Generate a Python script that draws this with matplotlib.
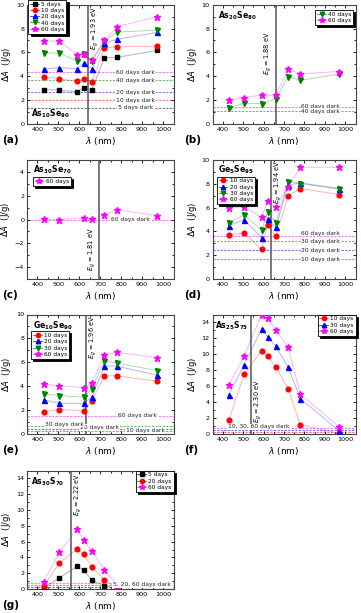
import matplotlib
matplotlib.use('Agg')
import matplotlib.pyplot as plt
from matplotlib.ticker import MultipleLocator
from matplotlib.lines import Line2D

# ---------------- data ----------------
wl_a = [430, 505, 590, 620, 660, 720, 780, 970]
a_days = ['5 days', '10 days', '20 days', '40 days', '60 days']
a_5 = [2.88, 2.85, 2.7, 3.05, 2.87, 5.55, 5.58, 6.17]
a_10 = [3.95, 3.78, 3.58, 3.78, 3.52, 6.38, 6.47, 6.52]
a_20 = [4.62, 4.72, 4.64, 5.08, 4.62, 6.78, 7.1, 7.67]
a_40 = [5.98, 5.93, 5.28, 5.84, 5.28, 6.95, 7.7, 7.87]
a_60 = [6.97, 6.94, 5.8, 5.9, 5.35, 7.0, 8.16, 8.98]
a_dark = [1.37, 2.0, 2.67, 3.67, 4.33]

wl_b = [430, 505, 590, 660, 720, 780, 970]
b_days = ['40 days', '60 days']
b_40 = [1.35, 1.75, 1.7, 2.1, 3.98, 3.65, 4.2]
b_60 = [2.0, 2.2, 2.45, 2.4, 4.6, 4.2, 4.4]
b_dark = [1.12, 1.45]

wl_c = [430, 505, 620, 660, 720, 780, 970]
c_days = ['60 days']
c_60 = [0.04, 0.0, 0.13, 0.04, 0.4, 0.82, 0.32]
c_dark = [0.0]

wl_d = [430, 505, 590, 620, 660, 720, 780, 970]
d_days = ['10 days', '20 days', '30 days', '60 days']
d_10 = [3.73, 3.87, 2.48, 4.54, 3.59, 6.99, 7.6, 7.1]
d_20 = [4.48, 4.99, 3.48, 5.01, 4.35, 7.88, 8.08, 7.6]
d_30 = [4.74, 5.4, 4.1, 5.6, 4.72, 8.19, 8.02, 7.55]
d_60 = [5.96, 6.05, 5.18, 6.57, 6.05, 7.77, 9.39, 9.39]
d_dark = [1.64, 2.42, 3.18, 3.62]

wl_e = [430, 505, 620, 660, 720, 780, 970]
e_days = ['10 days', '20 days', '30 days', '60 days']
e_10 = [1.87, 2.04, 1.96, 2.77, 4.87, 4.87, 4.42]
e_20 = [2.85, 2.57, 2.57, 3.08, 5.68, 5.68, 4.92]
e_30 = [3.36, 3.22, 3.08, 3.8, 6.13, 5.93, 5.31]
e_60 = [4.17, 4.03, 3.89, 4.25, 6.63, 6.83, 6.38]
e_dark = [0.24, 0.45, 0.63, 1.54]

wl_f = [430, 505, 590, 620, 660, 720, 780, 970]
f_days = ['10 days', '30 days', '60 days']
f_10 = [1.75, 7.5, 10.45, 9.75, 8.42, 5.7, 1.15, 0.08]
f_30 = [4.9, 8.7, 13.15, 12.2, 11.0, 8.4, 4.45, 0.38]
f_60 = [6.15, 9.8, 14.95, 14.5, 13.1, 10.9, 5.0, 0.9]
f_dark = [0.3, 0.55, 0.8]

wl_g = [430, 505, 590, 620, 660, 720, 780]
g_days = ['5 days', '20 days', '60 days']
g_5 = [0.15, 1.4, 2.9, 2.35, 1.15, 0.4, 0.1]
g_20 = [0.38, 3.3, 5.05, 4.45, 2.78, 1.15, 0.15]
g_60 = [0.92, 4.65, 7.65, 6.2, 4.82, 2.38, 0.55]
g_dark = [0.2, 0.5, 0.8]

eg_vals = ['1.93', '1.88', '1.81', '1.94', '1.96', '2.30', '2.22']
eg_nm = [642, 659, 695, 636, 630, 539, 560]

# ---------------- styles ----------------
K, R, B, G, M = '#000000', '#ff0000', '#0000ff', '#008000', '#ff00ff'
MK = {'s': 3.0, 'o': 3.4, '^': 3.6, 'v': 3.6, '*': 4.5}

plt.rcParams['font.family'] = ['DejaVu Sans']
plt.rcParams['mathtext.fontset'] = 'dejavusans'

W, H = 361, 613
fig = plt.figure(figsize=(W / 100, H / 100), dpi=100)


def ax_at(x0, y0, x1, y1):
    return fig.add_axes([x0 / W, 1 - y1 / H, (x1 - x0) / W, (y1 - y0) / H])


def setup(ax, ylim, ymaj, letter, lx):
    ax.set_xlim(350, 1050)
    ax.set_ylim(*ylim)
    ax.xaxis.set_major_locator(MultipleLocator(100))
    ax.xaxis.set_minor_locator(MultipleLocator(50))
    ax.yaxis.set_major_locator(MultipleLocator(ymaj))
    ax.yaxis.set_minor_locator(MultipleLocator(ymaj / 2))
    ax.tick_params(which='both', direction='in', top=True, right=True,
                   labelsize=4.6, width=0.6, pad=2)
    ax.tick_params(which='major', length=2.5)
    ax.tick_params(which='minor', length=1.4)
    for s in ax.spines.values():
        s.set_linewidth(0.8)
        s.set_color('#444444')
    ax.set_xlabel(r'$\lambda$ (nm)', fontsize=6.5, labelpad=2.5)
    ax.set_ylabel(r'$\Delta A$  (J/g)', fontsize=6, labelpad=2)
    pos = ax.get_position()
    fig.text(lx / W, pos.y0 - 11 / H, letter, fontsize=7.5, fontweight='bold',
             ha='left', va='top')


def series(ax, wl, ys, styles, labels):
    for y, (c, m), lab in zip(ys, styles, labels):
        ax.plot(wl, y, color=c, alpha=0.3, lw=0.7, zorder=2)
        ax.plot(wl, y, ls='none', marker=m, ms=MK[m], color=c, mec=c,
                zorder=3, label=lab)


def leg(ax, loc, anchor):
    hs, ls = ax.get_legend_handles_labels()
    hh = [Line2D([], [], color=h.get_color(), marker=h.get_marker(),
                 ms=h.get_markersize() * 0.9, lw=0.5) for h in hs]
    lg = ax.legend(hh, ls, loc=loc, bbox_to_anchor=anchor, fontsize=4.2,
                   handlelength=1.5, handletextpad=0.4, borderpad=0.3,
                   labelspacing=0.2, fancybox=False,
                   shadow={'color': 'black', 'alpha': 1, 'ox': 1.5, 'oy': -1.5},
                   framealpha=1, borderaxespad=0)
    lg.get_frame().set_edgecolor('black')
    lg.get_frame().set_linewidth(0.6)
    lg.set_zorder(10)


def dark(ax, vals, colors, labels):
    for v, c in zip(vals, colors):
        ax.axhline(v, color=c, ls=(0, (2, 1.2)), lw=0.8, alpha=0.55, zorder=1)
    for (x, y, t) in labels:
        ax.text(x, y, t, fontsize=4.3, ha='center', va='center', color='#222222',
                bbox=dict(fc='white', ec='none', pad=0.5), zorder=4)


def egline(ax, x, txt, ha, y, va):
    ax.axvline(x, color='#555555', lw=1.1, zorder=2.5)
    dx = 7 if ha == 'left' else -7
    ax.text(x + dx, y, r'$E_g$ = ' + txt + ' eV', rotation=90, fontsize=4.7,
            ha=ha, va=va, zorder=4)


def comp(ax, s, x, y):
    ax.text(x, y, s, transform=ax.transAxes, fontsize=5.6, ha='left', va='center',
            zorder=5)


LX0, LX1 = 27, 173.5
RX0, RX1 = 212.5, 355.5
rows = [(4.7, 124), (160, 279), (314.5, 434), (470.6, 589)]

# (a)
ax = ax_at(LX0, rows[0][0], LX1, rows[0][1])
setup(ax, (0, 10), 2, '(a)', 2)
series(ax, wl_a, [a_5, a_10, a_20, a_40, a_60],
       [(K, 's'), (R, 'o'), (B, '^'), (G, 'v'), (M, '*')], a_days)
dark(ax, a_dark, [K, R, B, G, M],
     [(870, 1.37, '5 days dark'), (870, 2.0, '10 days dark'),
      (870, 2.67, '20 days dark'), (870, 3.67, '40 days dark'),
      (870, 4.33, '60 days dark')])
egline(ax, eg_nm[0], eg_vals[0], 'left', 9.9, 'top')
comp(ax, r'$\mathbf{As_{10}Se_{90}}$', 0.03, 0.09)
leg(ax, 'upper left', (0.01, 1.04))

# (b)
ax = ax_at(RX0, rows[0][0], RX1, rows[0][1])
setup(ax, (0, 10), 2, '(b)', 184)
series(ax, wl_b, [b_40, b_60], [(G, 'v'), (M, '*')], b_days)
dark(ax, b_dark, [G, M],
     [(880, 1.5, '60 days dark'), (880, 1.07, '40 days dark')])
egline(ax, eg_nm[1], eg_vals[1], 'right', 7.8, 'top')
comp(ax, r'$\mathbf{As_{20}Se_{80}}$', 0.04, 0.91)
leg(ax, 'upper right', (0.985, 0.955))

# (c)
ax = ax_at(LX0, rows[1][0], LX1, rows[1][1])
setup(ax, (-5, 5), 2, '(c)', 2)
series(ax, wl_c, [c_60], [(M, '*')], c_days)
dark(ax, c_dark, [M], [(845, 0.0, '60 days dark')])
egline(ax, eg_nm[2], eg_vals[2], 'right', -4.3, 'bottom')
comp(ax, r'$\mathbf{As_{30}Se_{70}}$', 0.04, 0.92)
leg(ax, 'upper left', (0.04, 0.855))

# (d)
ax = ax_at(RX0, rows[1][0], RX1, rows[1][1])
setup(ax, (0, 10), 2, '(d)', 184)
series(ax, wl_d, [d_10, d_20, d_30, d_60],
       [(R, 'o'), (B, '^'), (G, 'v'), (M, '*')], d_days)
dark(ax, d_dark, [R, B, G, M],
     [(880, 1.64, '10 days dark'), (880, 2.42, '20 days dark'),
      (880, 3.18, '30 days dark'), (880, 3.85, '60 days dark')])
egline(ax, eg_nm[3], eg_vals[3], 'left', 9.95, 'top')
comp(ax, r'$\mathbf{Ge_5Se_{95}}$', 0.04, 0.92)
leg(ax, 'upper left', (0.03, 0.86))

# (e)
ax = ax_at(LX0, rows[2][0], LX1, rows[2][1])
setup(ax, (0, 10), 2, '(e)', 2)
series(ax, wl_e, [e_10, e_20, e_30, e_60],
       [(R, 'o'), (B, '^'), (G, 'v'), (M, '*')], e_days)
dark(ax, e_dark, [R, B, G, M],
     [(915, 0.3, '10 days dark'), (695, 0.55, '20 days dark'),
      (530, 0.82, '30 days dark'), (880, 1.54, '60 days dark')])
egline(ax, eg_nm[4], eg_vals[4], 'left', 9.95, 'top')
comp(ax, r'$\mathbf{Ge_{10}Se_{90}}$', 0.04, 0.91)
leg(ax, 'upper left', (0.03, 0.86))

# (f)
ax = ax_at(RX0, rows[2][0], RX1, rows[2][1])
setup(ax, (0, 15), 2, '(f)', 184)
series(ax, wl_f, [f_10, f_30, f_60], [(R, 'o'), (B, '^'), (M, '*')], f_days)
dark(ax, f_dark, [R, B, M], [(575, 0.9, '10, 30, 60 days dark')])
egline(ax, eg_nm[5], eg_vals[5], 'left', 1.4, 'bottom')
comp(ax, r'$\mathbf{As_{25}S_{75}}$', 0.02, 0.91)
leg(ax, 'upper right', (1.0, 1.0))

# (g)
ax = ax_at(LX0, rows[3][0], LX1, rows[3][1])
setup(ax, (0, 15), 2, '(g)', 2)
series(ax, wl_g, [g_5, g_20, g_60], [(K, 's'), (R, 'o'), (M, '*')], g_days)
dark(ax, g_dark, [K, R, M], [(900, 0.55, '5, 20, 60 days dark')])
egline(ax, eg_nm[6], eg_vals[6], 'left', 14.8, 'top')
comp(ax, r'$\mathbf{As_{30}S_{70}}$', 0.03, 0.91)
leg(ax, 'upper right', (1.0, 1.0))

fig.savefig('out.png', dpi=100)
